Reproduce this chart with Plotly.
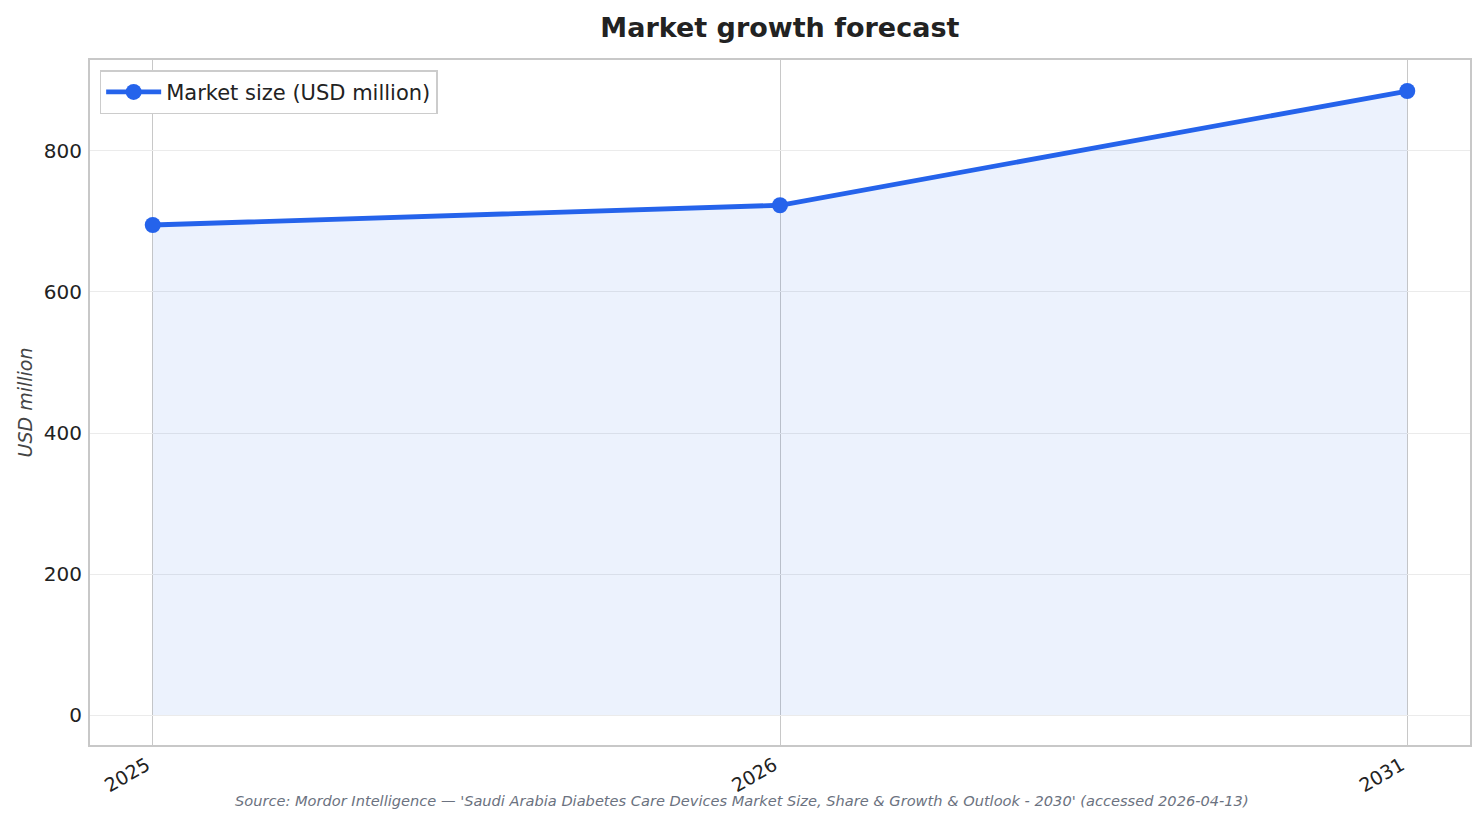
import plotly.graph_objects as go

# market size forecast
years = ['2025', '2026', '2031']
market_size = [695, 723, 885]
y_ticks = [0, 200, 400, 600, 800]

title_text = 'Market growth forecast'
source_text = ("Source: Mordor Intelligence \u2014 'Saudi Arabia Diabetes Care Devices Market Size, "
               "Share & Growth & Outlook - 2030' (accessed 2026-04-13)")

FONT = 'DejaVu Sans'
BLUE = '#2563eb'

fig = go.Figure()

# shaded area under the line
fig.add_trace(go.Scatter(
    x=years,
    y=market_size,
    mode='none',
    fill='tozeroy',
    fillcolor='rgba(37, 99, 235, 0.085)',
    showlegend=False,
    hoverinfo='skip'
))

fig.add_trace(go.Scatter(
    x=years,
    y=market_size,
    mode='lines+markers',
    name='Market size (USD million)',
    line=dict(color=BLUE, width=4.8),
    marker=dict(color=BLUE, size=16)
))

fig.update_layout(
    width=1484,
    height=823,
    paper_bgcolor='white',
    plot_bgcolor='white',
    font=dict(family=FONT, size=20, color='#222222'),
    margin=dict(l=90, r=14, t=60, b=78),
    title=dict(
        text='<b>' + title_text + '</b>',
        x=0.5255,
        xanchor='center',
        y=0.967,
        yanchor='middle',
        font=dict(family=FONT, size=27, color='#222222')
    ),
    legend=dict(
        x=0.007,
        y=0.985,
        xanchor='left',
        yanchor='top',
        bgcolor='white',
        bordercolor='#cccccc',
        borderwidth=1.5,
        itemwidth=55,
        font=dict(family=FONT, size=21, color='#222222')
    ),
    xaxis=dict(
        type='category',
        range=[-0.1, 2.1],
        showgrid=True,
        gridcolor='#c8c8c8',
        gridwidth=1.3,
        tickangle=-30,
        tickfont=dict(size=19),
        ticklabelshift=-6,
        showline=True,
        linecolor='#c8c8c8',
        linewidth=2,
        mirror=True,
        ticks='',
        zeroline=False
    ),
    yaxis=dict(
        range=[-42.5, 929],
        tickvals=y_ticks,
        showgrid=True,
        gridcolor='#ebebeb',
        gridwidth=1.3,
        tickfont=dict(size=20),
        ticklabelstandoff=2,
        showline=True,
        linecolor='#c8c8c8',
        linewidth=2,
        mirror=True,
        ticks='',
        zeroline=False,
        title=dict(
            text='<i>USD million</i>',
            font=dict(family=FONT, size=19, color='#444444'),
            standoff=6
        )
    )
)

fig.add_annotation(
    text='<i>' + source_text + '</i>',
    xref='paper',
    yref='paper',
    x=0.4723,
    y=-0.0803,
    xanchor='center',
    yanchor='middle',
    showarrow=False,
    font=dict(family=FONT, size=14.6, color='#6b7280')
)

# drop the default page margin so the figure sits at the window's corner
fig.write_html('out.html', config={'displayModeBar': False},
               post_script="document.body.style.margin='0';")
